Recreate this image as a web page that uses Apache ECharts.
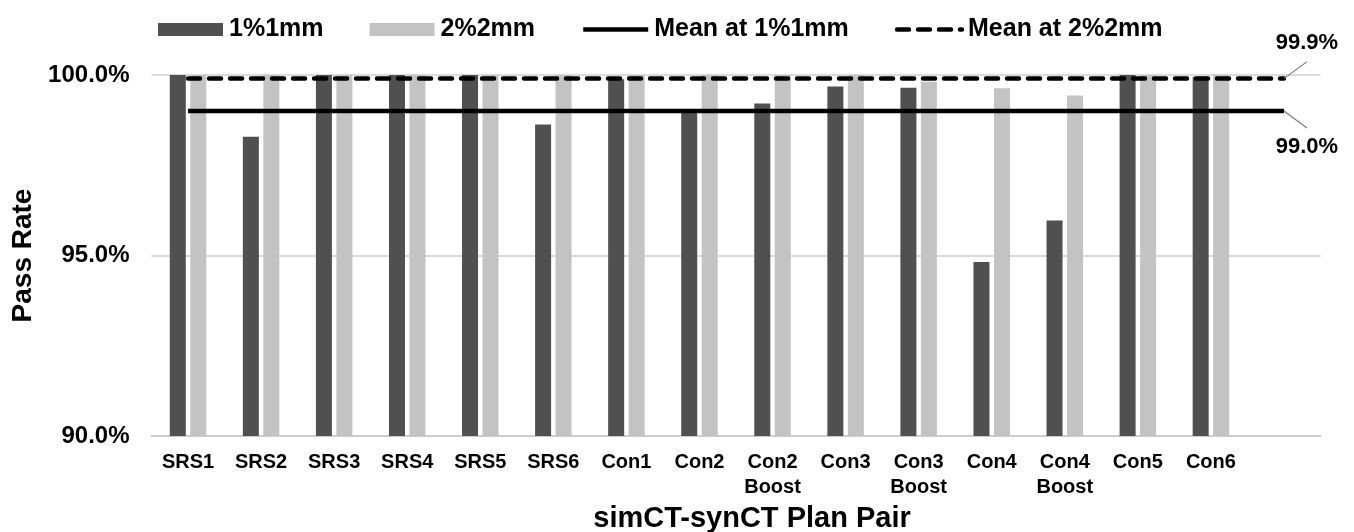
<!DOCTYPE html>
<html>
<head>
<meta charset="utf-8">
<script src="https://cdn.jsdelivr.net/npm/echarts@6/dist/echarts.min.js"></script>
<style>html,body{margin:0;padding:0;background:#fff}#c{width:1354px;height:532px}</style>
</head>
<body>
<div id="c"></div>
<script>
const categories = ['SRS1','SRS2','SRS3','SRS4','SRS5','SRS6','Con1','Con2','Con2\nBoost','Con3','Con3\nBoost','Con4','Con4\nBoost','Con5','Con6',''];
const pass1mm = [100.0, 98.29, 100.0, 100.0, 100.0, 98.63, 99.88, 99.02, 99.21, 99.68, 99.65, 94.82, 95.97, 100.0, 99.95];
const pass2mm = [100.0, 100.0, 100.0, 100.0, 100.0, 100.0, 100.0, 100.0, 100.0, 100.0, 99.81, 99.63, 99.43, 100.0, 100.0];
const mean1mm = 99.0;
const mean2mm = 99.9;
const yTicks = [90, 95, 100];

const FONT = '"Liberation Sans", Arial, sans-serif';
const chart = echarts.init(document.getElementById('c'), null, {renderer: 'canvas'});
const lastIdx = categories.length - 1;

function meanLine(name, v, dashed, dir) {
  return {
    name: name,
    type: 'line',
    data: [[0, v], [lastIdx, v]],
    symbol: 'circle',
    symbolSize: 0,
    showSymbol: true,
    silent: true,
    z: 5,
    lineStyle: {color: '#000', width: 4.5, type: dashed ? [12, 9] : 'solid', cap: dashed ? 'round' : 'butt'},
    itemStyle: {color: '#000'},
    label: {
      show: true,
      position: 'inside',
      formatter: p => p.dataIndex === 1 ? v.toFixed(1) + '%' : '',
      fontFamily: FONT, fontWeight: 'bold', fontSize: 22, color: '#000'
    },
    labelLayout: p => p.dataIndex === 1 ? {dx: 23, dy: 36 * dir} : {}
  };
}

chart.setOption({
  animation: false,
  backgroundColor: '#fff',
  legend: {
    left: 153, top: 12,
    itemWidth: 65, itemHeight: 13, itemGap: 46,
    textStyle: {fontFamily: FONT, fontWeight: 'bold', fontSize: 25, color: '#000', padding: [0, 0, 0, 1]},
    data: [
      {name: '1%1mm', icon: 'rect'},
      {name: '2%2mm', icon: 'rect'},
      {name: 'Mean at 1%1mm', itemStyle: {opacity: 0}, lineStyle: {width: 4.5}},
      {name: 'Mean at 2%2mm', itemStyle: {opacity: 0}, lineStyle: {width: 4.5}}
    ]
  },
  grid: {left: 151.5, right: 33.5, top: 75, bottom: 96, containLabel: false, outerBoundsMode: 'none'},
  xAxis: {
    type: 'category',
    data: categories,
    name: 'simCT-synCT Plan Pair',
    nameLocation: 'middle',
    nameGap: 66,
    nameTextStyle: {fontFamily: FONT, fontWeight: 'bold', fontSize: 29, color: '#000', padding: [0, 0, 0, 32]},
    axisTick: {show: false},
    axisLine: {lineStyle: {color: '#c8c8c8', width: 1.5}},
    axisLabel: {interval: 0, margin: 14, fontFamily: FONT, fontWeight: 'bold', fontSize: 20, color: '#000', lineHeight: 25}
  },
  yAxis: {
    type: 'value',
    min: yTicks[0], max: yTicks[yTicks.length - 1], interval: yTicks[1] - yTicks[0],
    name: 'Pass Rate',
    nameLocation: 'middle',
    nameGap: 113,
    nameTextStyle: {fontFamily: FONT, fontWeight: 'bold', fontSize: 28, color: '#000'},
    axisLine: {show: false},
    axisTick: {show: false},
    splitLine: {lineStyle: {color: '#cfcfcf', width: 1.5}},
    axisLabel: {margin: 22, fontFamily: FONT, fontWeight: 'bold', fontSize: 24, color: '#000', formatter: v => v.toFixed(1) + '%'}
  },
  series: [
    {name: '1%1mm', type: 'bar', data: pass1mm, barWidth: 16, barGap: '28%', itemStyle: {color: '#505050'}, z: 2},
    {name: '2%2mm', type: 'bar', data: pass2mm, barWidth: 16, barGap: '28%', itemStyle: {color: '#c3c3c3'}, z: 2},
    meanLine('Mean at 1%1mm', mean1mm, false, 1),
    meanLine('Mean at 2%2mm', mean2mm, true, -1)
  ]
});

// leader lines from the end of each mean line to its label, placed through the axis scales
function leader(seriesIndex, v, dir) {
  const p = chart.convertToPixel({seriesIndex: seriesIndex}, [lastIdx, v]);
  return {
    type: 'line', silent: true, z: 10,
    shape: {x1: p[0], y1: p[1], x2: p[0] + 23, y2: p[1] + 17 * dir},
    style: {stroke: '#7a7a7a', lineWidth: 1.2}
  };
}
chart.setOption({graphic: [leader(2, mean1mm, 1), leader(3, mean2mm, -1)]});
</script>
</body>
</html>
